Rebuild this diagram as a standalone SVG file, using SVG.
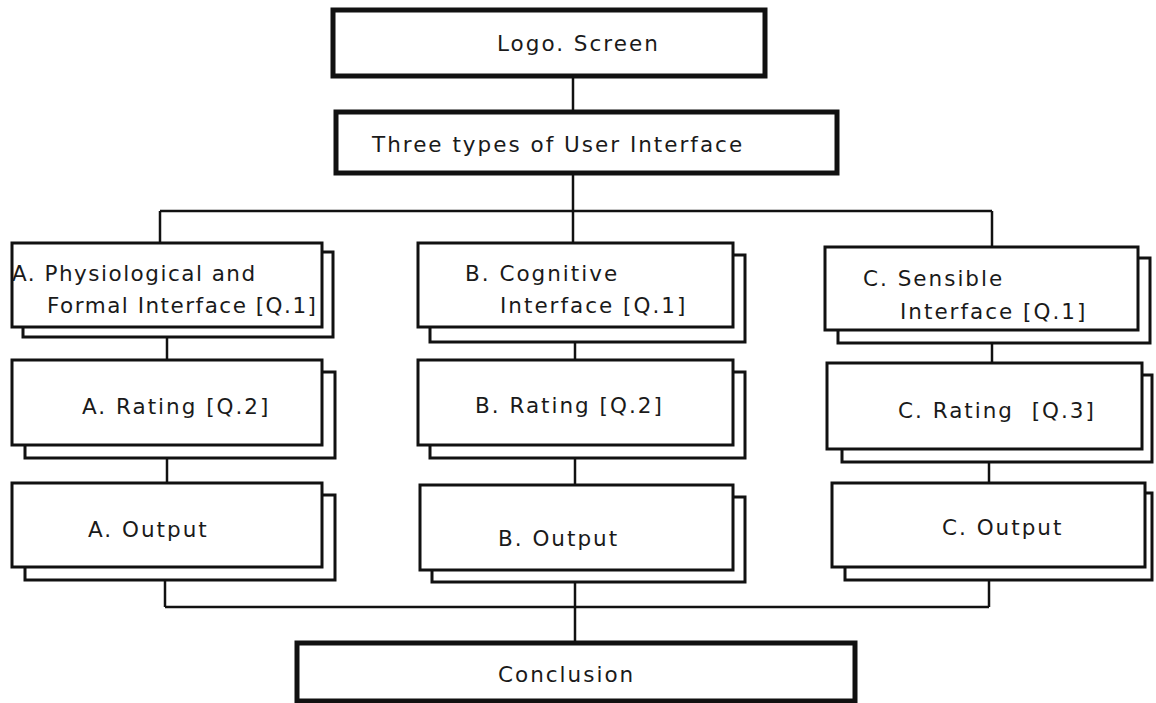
<svg xmlns="http://www.w3.org/2000/svg" width="1156" height="703" viewBox="0 0 1156 703">
<style>
.bg{fill:#fff}
.main{fill:#fff;stroke:#111;stroke-width:3}
.thick{fill:#fff;stroke:#111;stroke-width:5}
.sh{fill:#fff;stroke:#111;stroke-width:3}
.ln{fill:none;stroke:#111;stroke-width:2.5}
text{font-family:"DejaVu Sans","Liberation Sans",sans-serif;font-size:21.5px;fill:#1a1a1a;letter-spacing:2px}
.tight{letter-spacing:1.5px}
</style>
<rect class="bg" x="0" y="0" width="1156" height="703"/>
<g id="connectors">
<path class="ln" d="M573,76V112"/>
<path class="ln" d="M573,173V243"/>
<path class="ln" d="M160,211H992"/>
<path class="ln" d="M160,211V243"/>
<path class="ln" d="M992,211V247"/>
<path class="ln" d="M167,337V360"/>
<path class="ln" d="M167,458V483"/>
<path class="ln" d="M165,580V607"/>
<path class="ln" d="M575,342V360"/>
<path class="ln" d="M575,458V485"/>
<path class="ln" d="M575,582V643"/>
<path class="ln" d="M992,343V363"/>
<path class="ln" d="M989,462V483"/>
<path class="ln" d="M989,580V607"/>
<path class="ln" d="M165,607H989"/>
</g>
<g id="logo">
<rect class="thick" x="333" y="10" width="432" height="66"/>
<text x="497" y="51">Logo. Screen</text>
</g>
<g id="types">
<rect class="thick" x="336" y="112" width="501" height="61"/>
<text x="372" y="152">Three types of User Interface</text>
</g>
<g id="a-interface">
<rect class="sh" x="23" y="252" width="310" height="85"/>
<rect class="main" x="12" y="243" width="310" height="84"/>
<text x="12" y="281" class="tight">A. Physiological and</text>
<text x="47" y="313" class="tight">Formal Interface [Q.1]</text>
</g>
<g id="a-rating">
<rect class="sh" x="25" y="372" width="310" height="86"/>
<rect class="main" x="12" y="360" width="310" height="85"/>
<text x="82" y="414">A. Rating [Q.2]</text>
</g>
<g id="a-output">
<rect class="sh" x="25" y="495" width="310" height="85"/>
<rect class="main" x="12" y="483" width="310" height="84"/>
<text x="88" y="537">A. Output</text>
</g>
<g id="b-interface">
<rect class="sh" x="430" y="255" width="315" height="87"/>
<rect class="main" x="418" y="243" width="315" height="84"/>
<text x="465" y="281">B. Cognitive</text>
<text x="500" y="313">Interface [Q.1]</text>
</g>
<g id="b-rating">
<rect class="sh" x="430" y="372" width="315" height="86"/>
<rect class="main" x="418" y="360" width="315" height="85"/>
<text x="475" y="413">B. Rating [Q.2]</text>
</g>
<g id="b-output">
<rect class="sh" x="432" y="497" width="313" height="85"/>
<rect class="main" x="420" y="485" width="313" height="85"/>
<text x="498" y="546">B. Output</text>
</g>
<g id="c-interface">
<rect class="sh" x="838" y="258" width="312" height="85"/>
<rect class="main" x="825" y="247" width="313" height="83"/>
<text x="863" y="286">C. Sensible</text>
<text x="900" y="319">Interface [Q.1]</text>
</g>
<g id="c-rating">
<rect class="sh" x="842" y="375" width="310" height="87"/>
<rect class="main" x="827" y="363" width="315" height="86"/>
<text x="898" y="418" xml:space="preserve">C. Rating  [Q.3]</text>
</g>
<g id="c-output">
<rect class="sh" x="845" y="493" width="307" height="87"/>
<rect class="main" x="832" y="483" width="313" height="84"/>
<text x="942" y="535">C. Output</text>
</g>
<g id="conclusion">
<rect class="thick" x="297" y="643" width="558" height="58"/>
<text x="498" y="682">Conclusion</text>
</g>
</svg>
